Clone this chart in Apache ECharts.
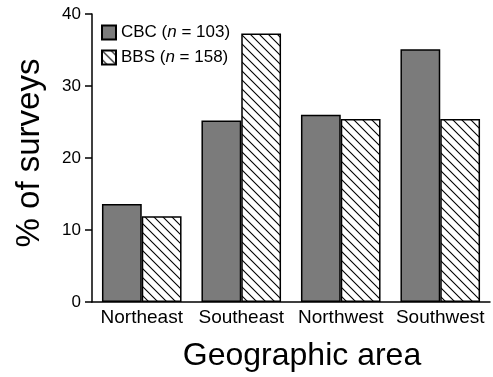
<!DOCTYPE html>
<html><head><meta charset="utf-8">
<script src="https://cdn.jsdelivr.net/npm/echarts@6/dist/echarts.min.js"></script>
<style>html,body{margin:0;padding:0;background:#fff}#c{width:493px;height:377px}</style>
</head><body><div id="c"></div>
<script>
const categories = ['Northeast', 'Southeast', 'Northwest', 'Southwest'];
const cbcValues = [13.6, 25.2, 26.0, 35.1];
const bbsValues = [11.9, 37.3, 25.4, 25.4];
const yTicks = [0, 10, 20, 30, 40];

function hatch() {
  const s = 9;
  const c = document.createElement('canvas');
  c.width = s; c.height = s;
  const g = c.getContext('2d');
  g.fillStyle = '#fff'; g.fillRect(0, 0, s, s);
  g.strokeStyle = '#000'; g.lineWidth = 1.1;
  g.beginPath();
  g.moveTo(-1, -1); g.lineTo(s + 1, s + 1);
  g.moveTo(-1 - s, -1); g.lineTo(1, s + 1);
  g.moveTo(s - 1, -1); g.lineTo(2 * s + 1, s + 1);
  g.stroke();
  return c;
}
const F = 'Liberation Sans, Arial, sans-serif';
const chart = echarts.init(document.getElementById('c'), null, {renderer: 'canvas'});
chart.setOption({
  animation: false,
  grid: {left: 92, right: 3, top: 14, bottom: 74},
  legend: {
    left: 96, top: 19, orient: 'vertical', itemWidth: 14, itemHeight: 14, itemGap: 8,
    icon: 'rect',
    textStyle: {fontFamily: F, fontSize: 17, color: '#000',
      rich: {i: {fontStyle: 'italic', fontFamily: F, fontSize: 17}}},
    formatter: function (n) { return n === 'CBC' ? 'CBC ({i|n} = 103)' : 'BBS ({i|n} = 158)'; },
    data: ['CBC', 'BBS']
  },
  xAxis: {
    type: 'category', data: categories,
    name: 'Geographic area', nameLocation: 'middle', nameGap: 38,
    nameTextStyle: {fontFamily: F, fontSize: 32, color: '#000', padding: [0, 0, 0, 22]},
    axisLine: {lineStyle: {color: '#000', width: 1.5}},
    axisTick: {alignWithLabel: true, interval: 0, length: 7, lineStyle: {color: '#000', width: 1.5}},
    axisLabel: {interval: 0, fontFamily: F, fontSize: 19, color: '#000', margin: 6}
  },
  yAxis: {
    type: 'value', min: yTicks[0], max: yTicks[yTicks.length - 1], interval: 10,
    name: '% of surveys', nameLocation: 'middle', nameGap: 46,
    nameTextStyle: {fontFamily: F, fontSize: 33, color: '#000', padding: [0, 0, 0, 10]},
    splitLine: {show: false},
    axisLine: {show: true, lineStyle: {color: '#000', width: 1.5}},
    axisTick: {show: true, length: 7, lineStyle: {color: '#000', width: 1.5}},
    axisLabel: {fontFamily: F, fontSize: 17, color: '#000', margin: 11}
  },
  series: [
    {name: 'CBC', type: 'bar', data: cbcValues, barGap: '0%', barCategoryGap: '20%',
     itemStyle: {color: '#7b7b7b', borderColor: '#000', borderWidth: 1.5}},
    {name: 'BBS', type: 'bar', data: bbsValues,
     itemStyle: {color: {image: hatch(), repeat: 'repeat'}, borderColor: '#000', borderWidth: 1.5}}
  ]
});
</script></body></html>
